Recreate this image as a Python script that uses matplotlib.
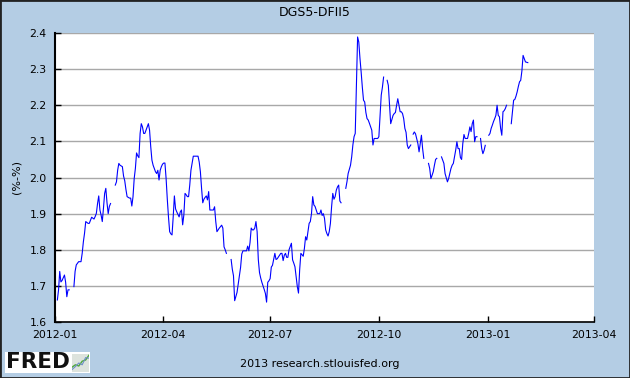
import numpy as np
import pandas as pd
import matplotlib
matplotlib.use("Agg")
import matplotlib.pyplot as plt
import matplotlib.dates as mdates
from matplotlib.patches import Rectangle

# DGS5 - DFII5 (5y nominal minus 5y TIPS)
# NaN = market holiday (line breaks there)
dates = [
    "2012-01-03", "2012-01-04", "2012-01-05", "2012-01-06", "2012-01-07", "2012-01-09",
    "2012-01-10", "2012-01-11", "2012-01-12", "2012-01-13", "2012-01-16", "2012-01-17",
    "2012-01-18", "2012-01-19", "2012-01-21", "2012-01-23", "2012-01-24", "2012-01-25",
    "2012-01-26", "2012-01-27", "2012-01-29", "2012-01-30", "2012-02-01", "2012-02-03",
    "2012-02-04", "2012-02-05", "2012-02-06", "2012-02-07", "2012-02-08", "2012-02-09",
    "2012-02-10", "2012-02-11", "2012-02-12", "2012-02-13", "2012-02-14", "2012-02-15",
    "2012-02-16", "2012-02-17", "2012-02-20", "2012-02-21", "2012-02-22", "2012-02-23",
    "2012-02-24", "2012-02-25", "2012-02-27", "2012-02-28", "2012-02-29", "2012-03-01",
    "2012-03-02", "2012-03-04", "2012-03-05", "2012-03-06", "2012-03-07", "2012-03-08",
    "2012-03-09", "2012-03-10", "2012-03-11", "2012-03-12", "2012-03-13", "2012-03-14",
    "2012-03-15", "2012-03-16", "2012-03-17", "2012-03-18", "2012-03-19", "2012-03-20",
    "2012-03-21", "2012-03-22", "2012-03-23", "2012-03-24", "2012-03-25", "2012-03-26",
    "2012-03-27", "2012-03-28", "2012-03-29", "2012-03-30", "2012-03-31", "2012-04-01",
    "2012-04-02", "2012-04-03", "2012-04-04", "2012-04-05", "2012-04-06", "2012-04-07",
    "2012-04-08", "2012-04-09", "2012-04-10", "2012-04-11", "2012-04-12", "2012-04-13",
    "2012-04-14", "2012-04-15", "2012-04-16", "2012-04-17", "2012-04-18", "2012-04-19",
    "2012-04-20", "2012-04-21", "2012-04-22", "2012-04-23", "2012-04-24", "2012-04-25",
    "2012-04-26", "2012-04-27", "2012-04-28", "2012-04-29", "2012-05-01", "2012-05-02",
    "2012-05-03", "2012-05-04", "2012-05-05", "2012-05-06", "2012-05-07", "2012-05-08",
    "2012-05-09", "2012-05-10", "2012-05-11", "2012-05-12", "2012-05-13", "2012-05-14",
    "2012-05-15", "2012-05-16", "2012-05-17", "2012-05-18", "2012-05-19", "2012-05-21",
    "2012-05-22", "2012-05-23", "2012-05-24", "2012-05-25", "2012-05-28", "2012-05-29",
    "2012-05-30", "2012-05-31", "2012-06-01", "2012-06-03", "2012-06-04", "2012-06-05",
    "2012-06-06", "2012-06-07", "2012-06-08", "2012-06-10", "2012-06-11", "2012-06-12",
    "2012-06-13", "2012-06-14", "2012-06-15", "2012-06-16", "2012-06-17", "2012-06-18",
    "2012-06-19", "2012-06-20", "2012-06-21", "2012-06-22", "2012-06-23", "2012-06-24",
    "2012-06-25", "2012-06-26", "2012-06-27", "2012-06-28", "2012-06-29", "2012-06-30",
    "2012-07-01", "2012-07-02", "2012-07-03", "2012-07-05", "2012-07-06", "2012-07-07",
    "2012-07-08", "2012-07-10", "2012-07-11", "2012-07-12", "2012-07-13", "2012-07-14",
    "2012-07-15", "2012-07-16", "2012-07-17", "2012-07-19", "2012-07-20", "2012-07-21",
    "2012-07-22", "2012-07-23", "2012-07-24", "2012-07-25", "2012-07-26", "2012-07-27",
    "2012-07-28", "2012-07-29", "2012-07-30", "2012-07-31", "2012-08-01", "2012-08-02",
    "2012-08-03", "2012-08-04", "2012-08-05", "2012-08-06", "2012-08-07", "2012-08-08",
    "2012-08-09", "2012-08-10", "2012-08-11", "2012-08-12", "2012-08-13", "2012-08-14",
    "2012-08-15", "2012-08-16", "2012-08-17", "2012-08-18", "2012-08-19", "2012-08-20",
    "2012-08-21", "2012-08-22", "2012-08-23", "2012-08-24", "2012-08-25", "2012-08-26",
    "2012-08-27", "2012-08-28", "2012-08-29", "2012-08-30", "2012-09-01", "2012-09-03",
    "2012-09-04", "2012-09-05", "2012-09-07", "2012-09-08", "2012-09-09", "2012-09-10",
    "2012-09-11", "2012-09-12", "2012-09-13", "2012-09-14", "2012-09-15", "2012-09-16",
    "2012-09-17", "2012-09-18", "2012-09-19", "2012-09-20", "2012-09-21", "2012-09-22",
    "2012-09-23", "2012-09-25", "2012-09-26", "2012-09-27", "2012-09-28", "2012-09-29",
    "2012-09-30", "2012-10-01", "2012-10-02", "2012-10-03", "2012-10-04", "2012-10-05",
    "2012-10-07", "2012-10-08", "2012-10-09", "2012-10-10", "2012-10-11", "2012-10-12",
    "2012-10-13", "2012-10-14", "2012-10-15", "2012-10-16", "2012-10-17", "2012-10-18",
    "2012-10-19", "2012-10-20", "2012-10-21", "2012-10-22", "2012-10-23", "2012-10-24",
    "2012-10-25", "2012-10-26", "2012-10-27", "2012-10-28", "2012-10-29", "2012-10-30",
    "2012-10-31", "2012-11-01", "2012-11-02", "2012-11-03", "2012-11-04", "2012-11-05",
    "2012-11-06", "2012-11-07", "2012-11-08", "2012-11-10", "2012-11-12", "2012-11-13",
    "2012-11-14", "2012-11-15", "2012-11-16", "2012-11-17", "2012-11-18", "2012-11-19",
    "2012-11-21", "2012-11-23", "2012-11-24", "2012-11-25", "2012-11-26", "2012-11-27",
    "2012-11-28", "2012-11-29", "2012-12-01", "2012-12-02", "2012-12-03", "2012-12-04",
    "2012-12-05", "2012-12-06", "2012-12-07", "2012-12-08", "2012-12-09", "2012-12-10",
    "2012-12-11", "2012-12-12", "2012-12-13", "2012-12-14", "2012-12-15", "2012-12-16",
    "2012-12-17", "2012-12-18", "2012-12-19", "2012-12-20", "2012-12-21", "2012-12-22",
    "2012-12-23", "2012-12-25", "2012-12-26", "2012-12-27", "2012-12-28", "2012-12-29",
    "2012-12-30", "2013-01-01", "2013-01-02", "2013-01-03", "2013-01-04", "2013-01-05",
    "2013-01-06", "2013-01-07", "2013-01-08", "2013-01-09", "2013-01-10", "2013-01-11",
    "2013-01-12", "2013-01-13", "2013-01-14", "2013-01-15", "2013-01-16", "2013-01-17",
    "2013-01-19", "2013-01-21", "2013-01-22", "2013-01-23", "2013-01-24", "2013-01-25",
    "2013-01-26", "2013-01-27", "2013-01-28", "2013-01-29", "2013-01-30", "2013-01-31",
    "2013-02-01", "2013-02-02", "2013-02-04",
]
nan = np.nan
values = [
    1.661, 1.689, 1.740, 1.711, 1.715, 1.730,
    1.710, 1.670, 1.689, 1.689, nan, 1.698,
    1.740, 1.758, 1.767, 1.767, 1.790, 1.822,
    1.846, 1.878, 1.873, 1.873, 1.890, 1.885,
    1.892, 1.901, 1.928, 1.949, 1.910, 1.896,
    1.878, 1.915, 1.956, 1.970, 1.930, 1.900,
    1.920, 1.928, nan, 1.979, 1.988, 2.020,
    2.039, 2.034, 2.030, 2.004, 1.991, 1.967,
    1.947, 1.943, 1.943, 1.921, 1.947, 1.997,
    2.025, 2.068, 2.060, 2.055, 2.122, 2.149,
    2.140, 2.122, 2.122, 2.131, 2.140, 2.149,
    2.131, 2.085, 2.048, 2.034, 2.025, 2.016,
    2.011, 2.020, 1.993, 2.020, 2.030, 2.037,
    2.040, 2.040, 1.997, 1.940, 1.891, 1.850,
    1.844, 1.841, 1.891, 1.949, 1.913, 1.905,
    1.898, 1.891, 1.905, 1.910, 1.869, 1.896,
    1.956, 1.952, 1.947, 1.947, 1.979, 2.020,
    2.040, 2.059, 2.059, 2.059, 2.059, 2.043,
    2.016, 1.970, 1.930, 1.940, 1.945, 1.949,
    1.938, 1.961, 1.910, 1.910, 1.910, 1.910,
    1.919, 1.878, 1.850, 1.855, 1.860, 1.868,
    1.860, 1.808, 1.800, 1.790, nan, 1.773,
    1.746, 1.728, 1.659, 1.682, 1.706, 1.728,
    1.751, 1.788, 1.797, 1.797, 1.797, 1.810,
    1.797, 1.820, 1.860, 1.855, 1.855, 1.860,
    1.878, 1.850, 1.773, 1.737, 1.722, 1.710,
    1.700, 1.690, 1.679, 1.655, 1.710, 1.714,
    1.720, 1.752, 1.757, 1.790, 1.773, 1.775,
    1.780, 1.790, 1.790, 1.770, 1.785, 1.790,
    1.779, 1.779, 1.800, 1.818, 1.772, 1.763,
    1.753, 1.726, 1.698, 1.680, 1.745, 1.790,
    1.786, 1.782, 1.804, 1.836, 1.827, 1.850,
    1.873, 1.878, 1.900, 1.947, 1.924, 1.920,
    1.910, 1.900, 1.900, 1.900, 1.910, 1.895,
    1.900, 1.887, 1.855, 1.845, 1.838, 1.850,
    1.873, 1.919, 1.956, 1.940, 1.947, 1.965,
    1.974, 1.979, 1.935, 1.930, nan, 1.970,
    1.988, 2.011, 2.034, 2.057, 2.090, 2.113,
    2.122, 2.250, 2.389, 2.375, 2.330, 2.292,
    2.250, 2.214, 2.209, 2.180, 2.163, 2.159,
    2.150, 2.131, 2.090, 2.108, 2.108, 2.108,
    2.108, 2.113, 2.170, 2.228, 2.250, 2.278,
    nan, 2.269, 2.255, 2.200, 2.149, 2.160,
    2.172, 2.177, 2.180, 2.200, 2.218, 2.200,
    2.182, 2.182, 2.177, 2.163, 2.136, 2.125,
    2.090, 2.080, 2.085, 2.090, nan, 2.120,
    2.126, 2.121, 2.108, 2.094, 2.071, 2.094,
    2.117, 2.080, 2.053, nan, 2.039, 2.025,
    1.997, 2.006, 2.016, 2.034, 2.050, 2.053,
    nan, 2.057, 2.048, 2.039, 2.011, 2.000,
    1.988, 1.997, 2.025, 2.034, 2.039, 2.057,
    2.076, 2.099, 2.080, 2.080, 2.055, 2.050,
    2.094, 2.119, 2.108, 2.108, 2.108, 2.122,
    2.140, 2.127, 2.149, 2.159, 2.099, 2.113,
    2.113, nan, 2.108, 2.080, 2.066, 2.075,
    2.089, nan, 2.117, 2.122, 2.136, 2.145,
    2.155, 2.163, 2.172, 2.200, 2.172, 2.168,
    2.136, 2.117, 2.182, 2.185, 2.191, 2.200,
    nan, 2.149, 2.182, 2.214, 2.216, 2.225,
    2.237, 2.252, 2.265, 2.269, 2.295, 2.338,
    2.329, 2.320, 2.318,
]

yticks = [1.6, 1.7, 1.8, 1.9, 2.0, 2.1, 2.2, 2.3, 2.4]
xticks = ["2012-01", "2012-04", "2012-07", "2012-10", "2013-01", "2013-04"]
title = "DGS5-DFII5"
ylabel = "(%-%)"
footer = "2013 research.stlouisfed.org"

bg = "#B4CDE4"
s = pd.Series(values, index=pd.to_datetime(dates))

fig = plt.figure(figsize=(6.3, 3.78), dpi=100, facecolor=bg)
ax = fig.add_axes([55 / 630, 1 - 322 / 378, 539 / 630, 289 / 378])
ax.set_facecolor("white")

ax.plot(s.index, s.values, color="#0000FF", lw=0.8)

ax.set_ylim(1.6, 2.4)
ax.set_yticks(yticks)
ax.set_yticklabels([f"{v:.1f}" for v in yticks])
ax.set_xlim(pd.Timestamp("2012-01-01"), pd.Timestamp("2013-04-01"))
ax.set_xticks(pd.to_datetime(xticks))
ax.xaxis.set_major_formatter(mdates.DateFormatter("%Y-%m"))

ax.grid(axis="y", color="#A8A8A8", lw=1.0)
ax.set_axisbelow(True)
for side in ["top", "right"]:
    ax.spines[side].set_visible(False)
ax.spines["left"].set_linewidth(1.5)
ax.spines["bottom"].set_linewidth(1.2)
ax.tick_params(axis="both", direction="in", length=4, width=1,
               labelsize=7.8, colors="black")
ax.tick_params(axis="y", pad=6)
ax.tick_params(axis="x", pad=6)

ax.set_ylabel(ylabel, fontsize=8, labelpad=6)
fig.text(0.5, 1 - 12 / 378, title, ha="center", va="center", fontsize=9)
fig.text(320 / 630, 1 - 364 / 378, footer, ha="center", va="center", fontsize=8)

# FRED logo box
logo_bg = Rectangle((5 / 630, 1 - 373 / 378), 85 / 630, 21 / 378,
                    transform=fig.transFigure, facecolor="white",
                    edgecolor="none", zorder=-1)
fig.patches.append(logo_bg)
fig.text(6 / 630, 1 - 362.5 / 378, "FRED", ha="left", va="center",
         fontsize=15.5, fontweight="heavy", color="#111111")
icon = fig.add_axes([72 / 630, 1 - 372 / 378, 17 / 630, 18 / 378])
icon.set_zorder(3)
icon.set_facecolor("#DDE3DD")
icon.plot([0, 1, 2, 3, 4, 5], [0.8, 1.2, 1.0, 1.8, 2.0, 2.8], color="#4FA83A", lw=1.0)
icon.plot([0, 1, 2, 3, 4, 5], [0.4, 0.9, 1.5, 1.2, 2.4, 2.3], color="#6E8EC8", lw=0.8)
icon.set_xlim(0, 5)
icon.set_ylim(0, 3)
icon.set_xticks([])
icon.set_yticks([])
for sp in icon.spines.values():
    sp.set_visible(False)

# dark outline round the whole picture
fig.patches.append(Rectangle((0, 0), 1, 1, transform=fig.transFigure,
                             facecolor="none", edgecolor="#222222", lw=2))

fig.savefig("out.png", dpi=100, facecolor=bg)
